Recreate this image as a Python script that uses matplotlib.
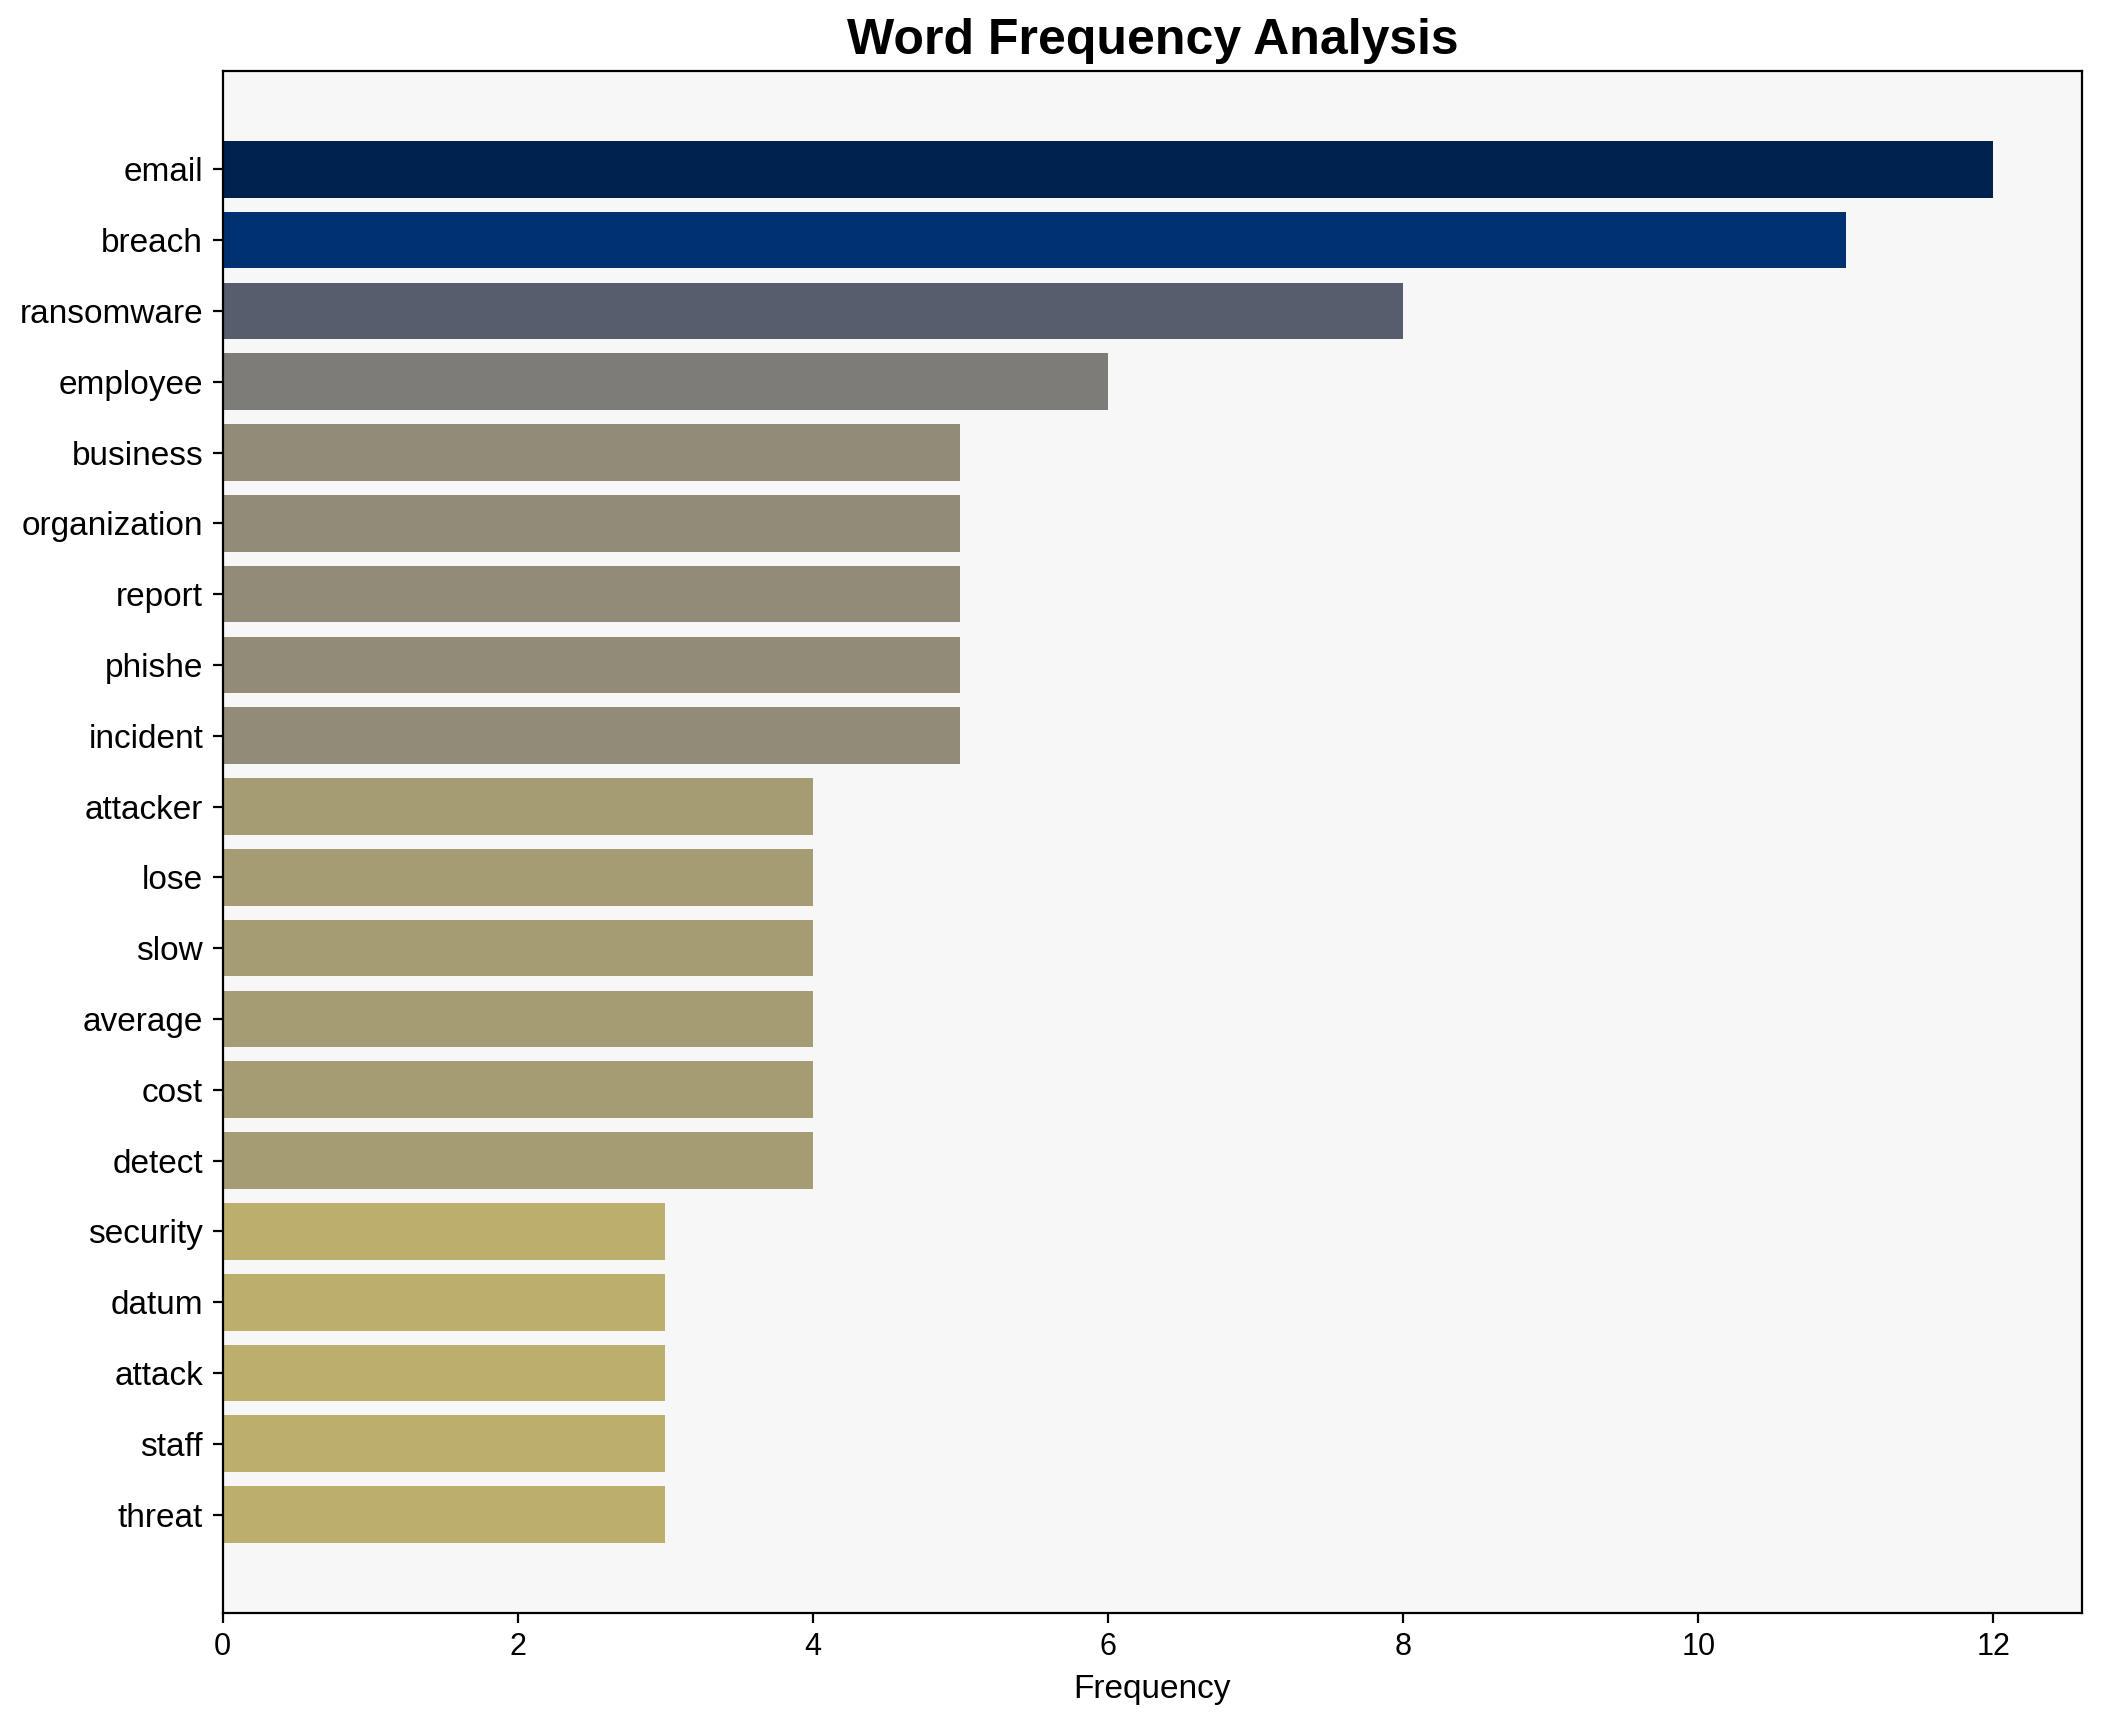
import matplotlib
matplotlib.use("Agg")
import matplotlib.pyplot as plt
import numpy as np

plt.rcParams['font.family'] = ['Liberation Sans', 'DejaVu Sans']

words = ["email", "breach", "ransomware", "employee", "business", "organization",
         "report", "phishe", "incident", "attacker", "lose", "slow", "average",
         "cost", "detect", "security", "datum", "attack", "staff", "threat"]
freqs = [12, 11, 8, 6, 5, 5, 5, 5, 5, 4, 4, 4, 4, 4, 4, 3, 3, 3, 3, 3]

fig = plt.figure(figsize=(10.51, 8.61), dpi=200)
ax = fig.add_axes([0.1059, 0.0633, 0.8846, 0.8955])
ax.set_facecolor('#f7f7f7')

fr = np.array(freqs, dtype=float)
colors = plt.cm.cividis(1 - fr / fr.max())
y = np.arange(len(words))
ax.barh(y, fr, color=colors, height=0.8)
ax.set_yticks(y)
ax.set_yticklabels(words, fontsize=12)
ax.invert_yaxis()
ax.tick_params(axis='x', labelsize=11)
ax.set_xlabel('Frequency', fontsize=12)
ax.set_title('Word Frequency Analysis', fontsize=18, fontweight='bold')

fig.savefig('out.png', dpi=200)
